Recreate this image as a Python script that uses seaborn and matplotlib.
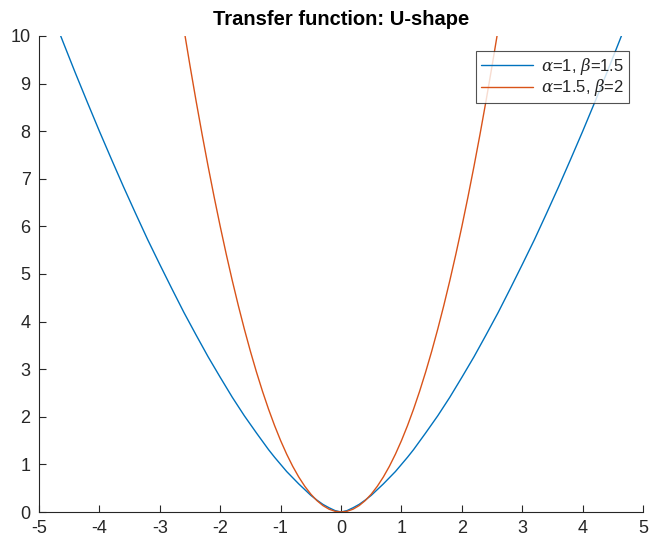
import matplotlib
matplotlib.use("Agg")
import matplotlib.pyplot as plt
import seaborn as sns
import pandas as pd

# Points
blue_x = [-5.0, -4.8, -4.6, -4.4, -4.2, -4.0, -3.8, -3.6, -3.4, -3.2, -3.0, -2.8, -2.6,
          -2.4, -2.2, -2.0, -1.8, -1.6, -1.4, -1.2, -1.1, -1.0, -0.9, -0.8, -0.7, -0.6,
          -0.5, -0.4, -0.3, -0.2, -0.1, 0.0, 0.1, 0.2, 0.3, 0.4, 0.5, 0.6, 0.7, 0.8,
          0.9, 1.0, 1.1, 1.2, 1.4, 1.6, 1.8, 2.0, 2.2, 2.4, 2.6, 2.8, 3.0,
          3.2, 3.4, 3.6, 3.8, 4.0, 4.2, 4.4, 4.6, 4.8, 5.0]
blue_y = [11.18, 10.52, 9.87, 9.23, 8.61, 8.00, 7.41, 6.83, 6.27, 5.72, 5.20, 4.69, 4.19,
          3.72, 3.26, 2.83, 2.41, 2.02, 1.66, 1.31, 1.15, 1.00, 0.85, 0.72, 0.59, 0.47,
          0.35, 0.25, 0.16, 0.09, 0.03, 0.00, 0.03, 0.09, 0.16, 0.25, 0.35, 0.47, 0.59, 0.72,
          0.85, 1.00, 1.15, 1.31, 1.66, 2.02, 2.41, 2.83, 3.26, 3.72, 4.19, 4.69, 5.20,
          5.72, 6.27, 6.83, 7.41, 8.00, 8.61, 9.23, 9.87, 10.52, 11.18]
red_x = [-2.7, -2.6, -2.5, -2.4, -2.3, -2.2, -2.1, -2.0, -1.9, -1.8, -1.7, -1.6, -1.5, -1.4,
         -1.3, -1.2, -1.1, -1.0, -0.9, -0.8, -0.7, -0.6, -0.5, -0.4, -0.3, -0.2, -0.1,
         0.0, 0.1, 0.2, 0.3, 0.4, 0.5, 0.6, 0.7, 0.8, 0.9, 1.0, 1.1, 1.2, 1.3, 1.4,
         1.5, 1.6, 1.7, 1.8, 1.9, 2.0, 2.1, 2.2, 2.3, 2.4, 2.5, 2.6, 2.7]
red_y = [10.935, 10.14, 9.375, 8.64, 7.935, 7.26, 6.615, 6.0, 5.415, 4.86, 4.335, 3.84, 3.375,
         2.94, 2.535, 2.16, 1.815, 1.5, 1.215, 0.96, 0.735, 0.54, 0.375, 0.24, 0.135, 0.06,
         0.015, 0.0, 0.015, 0.06, 0.135, 0.24, 0.375, 0.54, 0.735, 0.96, 1.215, 1.5, 1.815,
         2.16, 2.535, 2.94, 3.375, 3.84, 4.335, 4.86, 5.415, 6.0, 6.615, 7.26, 7.935, 8.64,
         9.375, 10.14, 10.935]
series_labels = [r"$\alpha$=1, $\beta$=1.5", r"$\alpha$=1.5, $\beta$=2"]
x_ticks = [-5, -4, -3, -2, -1, 0, 1, 2, 3, 4, 5]
y_ticks = [0, 1, 2, 3, 4, 5, 6, 7, 8, 9, 10]
title = "Transfer function: U-shape"

df = pd.concat([
    pd.DataFrame({"x": blue_x, "y": blue_y, "s": series_labels[0]}),
    pd.DataFrame({"x": red_x, "y": red_y, "s": series_labels[1]}),
], ignore_index=True)

sns.set_style("ticks")
plt.rcParams["font.family"] = ["Liberation Sans", "DejaVu Sans"]
plt.rcParams["mathtext.fontset"] = "dejavuserif"

fig = plt.figure(figsize=(6.49, 5.41), dpi=100)
ax = fig.add_axes([0.060, 0.0536, 0.931, 0.880])
sns.lineplot(data=df, x="x", y="y", hue="s", palette=["#0072BD", "#D95319"],
             linewidth=1.0, ax=ax, sort=False, estimator=None)

ax.set_xlim(-5, 5)
ax.set_ylim(0, 10)
ax.set_xticks(x_ticks)
ax.set_yticks(y_ticks)
ax.set_xticklabels([str(t) for t in x_ticks])
ax.set_yticklabels([str(t) for t in y_ticks])
ax.set_xlabel("")
ax.set_ylabel("")
for s in ["top", "right"]:
    ax.spines[s].set_visible(False)
for s in ["left", "bottom"]:
    ax.spines[s].set_color("#262626")
    ax.spines[s].set_linewidth(0.8)
ax.tick_params(direction="in", length=5, width=0.8, colors="#262626",
               labelsize=13, pad=6)
ax.set_title(title, fontsize=14.5, fontweight="bold", color="black", pad=8)

leg = ax.legend(loc="upper right", bbox_to_anchor=(0.977, 0.968), borderaxespad=0,
                fontsize=12, frameon=True, fancybox=False, edgecolor="#262626",
                handlelength=3.1, borderpad=0.3, labelspacing=0.02, handletextpad=0.5)
leg.get_frame().set_linewidth(0.8)
leg.set_title(None)

fig.savefig("out.png", dpi=100)
